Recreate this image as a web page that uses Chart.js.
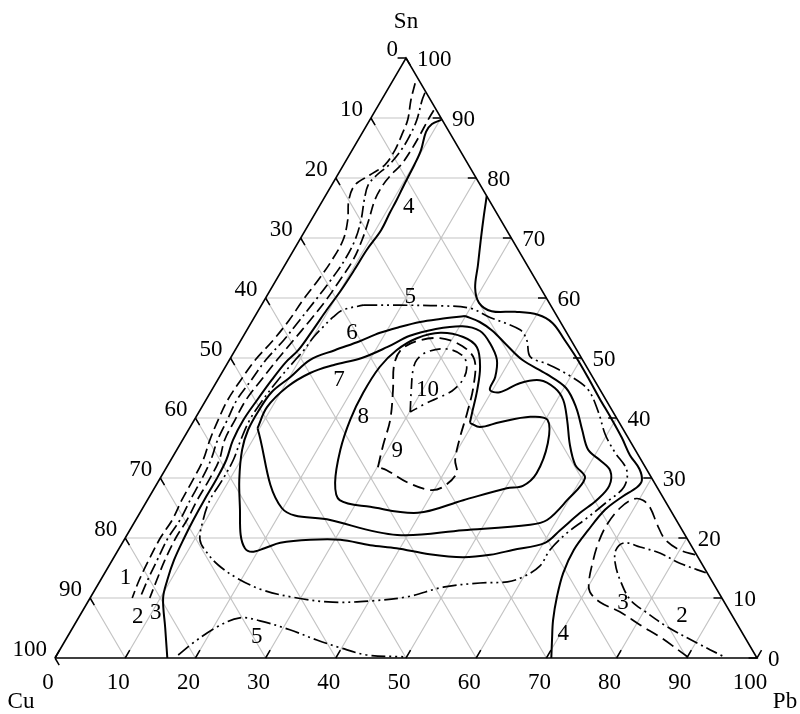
<!DOCTYPE html>
<html>
<head>
<meta charset="utf-8">
<title>Cu-Pb-Sn</title>
<script src="https://cdn.jsdelivr.net/npm/chart.js@4.4.1/dist/chart.umd.min.js"></script>
<style>
  html, body { margin: 0; padding: 0; background: #fff; }
  canvas { display: block; }
</style>
</head>
<body>
<canvas id="ternary" width="800" height="714"></canvas>
<script>
// every point is [Pb %, Sn %], Cu is whatever is left up to 100
var axisTicks = [0, 10, 20, 30, 40, 50, 60, 70, 80, 90, 100];
var gridSteps = [10, 20, 30, 40, 50, 60, 70, 80, 90];

var curve1 = [[3.4,95.8],[4.2,93],[5.4,89.7],[5.8,87.2],[6.1,84.7],[5.9,82.2],[4.6,80.5],[3.3,78.8],[3.7,76.3],[5.2,73],[6.2,69.7],[6.3,66.3],[6,63],[5.5,59.7],[5.2,56.3],[4.6,53],[3.7,49.7],[3.3,46.3],[3.1,43],[3.4,39.7],[3.9,36.3],[4.6,33],[4.8,29.7],[4.9,26.3],[5.2,23],[5,20],[5.2,16.3],[5.5,13],[6,10]];

var curve2 = [[5.6,94.2],[5.8,93],[6.7,89.7],[7,87.2],[7,84.7],[6.5,82.2],[5.6,80.5],[5.2,78.8],[5.9,76.3],[7.1,73],[7.9,69.7],[8.1,66.3],[7.8,63],[7.3,59.7],[6.7,56.3],[6.1,53],[5.2,49.7],[4.8,46.3],[4.4,43],[4.7,39.7],[5,36.3],[5.7,33],[6,29.7],[6.1,26.3],[6.3,23],[6.1,20],[6.4,16.3],[6.7,13],[7.1,10]];
var curve2Pb = [[85.6,14.2],[81.1,15.8],[77.4,17.5],[74.1,18.5],[71.5,19.2],[70.9,18],[71.9,15.8],[74,13],[77.1,9.7],[80.6,7.5],[84.6,5.2],[90.2,2.5],[95,0.3]];

var curve3 = [[8.3,91.3],[8.3,89.7],[8.4,87.2],[8.4,84.7],[8.2,82.2],[7.6,80.5],[7.3,78.8],[7.4,76.3],[8.2,73],[8.9,69.7],[9.3,66.3],[9.1,63],[8.8,59.7],[8.2,56.3],[7.5,53],[6.8,49.7],[6.2,46.3],[5.7,43],[5.8,39.7],[6,36.3],[6.9,33],[7.1,29.7],[7.1,26.3],[7.3,23],[7.2,20],[7.5,16.3],[8,13],[8.5,10]];
var curve3Pb = [[82.6,17.2],[80,18],[77.1,19.7],[74.7,22.2],[72.3,25],[70.6,26.3],[69.2,26.5],[68,25],[67.5,22.2],[67.8,19.2],[68.6,16],[69.7,12.7],[70.7,11],[73,9.3],[76.6,7.7],[80.6,5.5],[84.8,3.3],[90,0.2]];

var curve4 = [[10.2,89.7],[9.2,89],[9,87.7],[9.8,84.7],[10.1,82.2],[10.2,80.5],[10.3,78.8],[10.5,76.3],[10.6,74.2],[10.8,71.3],[10.4,68],[10.3,64.7],[10.1,61.3],[9.7,58],[9.4,54.7],[9,51.3],[8.2,49.2],[7.7,46.3],[7.3,43],[7,39.7],[7.2,36.3],[7.9,33],[8.1,29.7],[8.1,26.3],[8.2,23],[8.4,20],[8.8,16.3],[9.5,13],[10.4,10],[13.2,5],[16,0]];
var curve4Pb = [[23,77],[24.2,73.8],[25.8,69.7],[27.5,65.5],[29,61.7],[30.8,59.2],[33.3,57.8],[36.7,57.7],[40.2,57.2],[43,55.8],[46.1,53],[49.3,50],[52.6,46.7],[55.9,43.3],[59.2,40],[62.4,36.7],[65,33.8],[67.5,31.5],[68.8,29.6],[68.7,28.5],[67.3,26.8],[66,24.7],[65.3,21.3],[64.9,18],[65.3,14.2],[66.4,10.2],[67.8,6.3],[69.3,3],[70.7,0]];

var curve5 = [[14.5,58.8],[19.7,58.8],[25.5,58.7],[30,58.3],[33.5,56.8],[38.9,54.7],[40.7,53],[42.6,50.2],[45.6,49],[49.9,47],[53.6,44.7],[56.9,41],[59.8,37.2],[62.6,34.3],[65.8,31.3],[66.8,28.5],[65.6,26],[64.1,23.3],[62.5,20.8],[61.5,18],[61.4,15.3],[59.9,13.5],[58.1,12.7],[54.3,12.5],[49.4,11.8],[45.1,10.2],[40.1,9.5],[34.9,9.3],[29.5,10],[24,11.3],[19.3,13.3],[15.5,15.5],[12.7,17.7],[10.8,19.7],[9.6,23],[8.9,26.3],[9,29.7],[8.9,33],[8.3,36.3],[7.9,39.7],[8.1,43],[8.6,46.3],[9.4,49.7],[9.8,51.3],[10.1,53.5],[10.6,55.2],[11.2,56.8],[12,58],[14.5,58.8]];
var curve5Base = [[17.3,0.5],[18.4,2.5],[20.5,5.2],[23,6.7],[26.1,6.2],[31.1,4.7],[35.8,3],[39.8,1.7],[44.2,0.5],[49.5,0.2]];

var curve6 = [[29.9,57],[26.6,56.5],[24,56],[21.6,55.2],[19.2,54.2],[17,52.8],[14.2,51.3],[11.5,49.7],[10.1,46.8],[8.7,44.3],[8.4,41.3],[8.5,38],[9.3,34.7],[11.4,29.7],[14,24.7],[16.2,20.5],[17.9,18.3],[19.2,17.7],[20.7,18.3],[22.5,19.2],[26.5,19.7],[30.8,19.7],[35.5,18.8],[39.5,18.3],[44.7,17.3],[49.7,16.8],[53.4,17.2],[56.2,18],[60.2,19.2],[61.3,21.3],[62.7,24.2],[64,26.3],[64.6,28.7],[63.5,31.2],[61.1,33],[58.6,34.7],[56.1,38],[53.4,41.7],[50.3,45],[46.4,47.3],[41.7,49.7],[38.2,52.2],[35.1,54.5],[32.5,56],[29.9,57]];

var curve7 = [[9.7,38.3],[9.3,41.8],[10.5,45.2],[12.6,47.5],[15.2,48.8],[18.7,50],[21.4,51.8],[23.7,53.7],[26.7,54.8],[30.4,55.3],[33.3,54.5],[35.7,52.5],[38.1,49.7],[39.3,46.8],[39.6,44.7],[41.2,44.3],[43.3,45.8],[45.9,46.3],[48.7,45],[50.9,43],[53.1,39.7],[55.6,35.5],[58,32.2],[60.5,30],[59.8,26.3],[58.6,23],[56.6,22.2],[47.5,21.3],[38.5,20.5],[27.7,23],[19.8,25],[9.7,38.3]];

var curve8 = [[39.5,39.2],[39,40.8],[37.8,44.7],[36.3,48.5],[34.2,51.8],[31.4,53.5],[27.8,54.2],[24.9,53.3],[23,51.3],[22,48.5],[21.8,44.2],[22.2,39.7],[23.3,34.7],[25.3,29.2],[27.4,26.3],[32.3,25.2],[39.6,24.2],[45,26.3],[50.2,28.3],[52.3,28.7],[53.2,30.8],[52.3,35.8],[50.3,39.7],[47.6,40.2],[43.7,39.3],[41.3,38.5],[39.5,39.2]];

var curve9 = [[30.1,31.8],[29,35.5],[27.9,39.7],[25.8,44.7],[23.9,48.8],[23.6,51.3],[25.1,52.8],[28.2,53.3],[32,52],[34.9,49.7],[37,45.2],[38.3,40.8],[39.3,36.8],[40.5,33],[41.8,30.8],[41,28.5],[39.4,28],[35.5,29.3],[31.6,31.3],[30.1,31.8]];

var curve10 = [[30.1,41],[28.4,44.7],[27,48],[26.7,49.7],[27.5,51],[30.1,51.5],[33,50.3],[34.5,48.3],[34.9,46.2],[34.3,44.5],[33.1,43.5],[31.7,42.5],[30.1,41]];

// numbers written next to the curves
var curveLabels = [
    { text: '1', at: [3.4, 13.3] },
    { text: '2', at: [8.4, 6.8] },
    { text: '3', at: [10.6, 7.5] },
    { text: '4', at: [12.8, 75.2] },
    { text: '5', at: [20.5, 60.2] },
    { text: '6', at: [15.2, 54.2] },
    { text: '7', at: [17.3, 46.3] },
    { text: '8', at: [23.8, 40.2] },
    { text: '9', at: [31.5, 34.5] },
    { text: '10', at: [30.7, 44.7] },
    { text: '5', at: [27, 3.5] },
    { text: '4', at: [70.4, 4] },
    { text: '3', at: [76.3, 9.2] },
    { text: '2', at: [85.8, 7] }
];

var FONT = "23px 'Liberation Serif', 'Times New Roman', serif";
var DASH = [11, 5];
var DASH_DOT = [12, 4, 2, 4];
var DASH_DOT_DOT = [14, 4, 2, 4, 2, 4];

// Pb/Sn composition -> position on the flat x/y scales
function toXY(p) {
    return { x: p[0] + p[1] / 2, y: p[1] };
}

function pathData(points) {
    return points.map(toXY);
}

// several separate segments in one dataset, split with null points
function segmentData(segs) {
    var out = [];
    for (var i = 0; i < segs.length; i++) {
        if (i > 0) out.push({ x: null, y: null });
        out.push(toXY(segs[i][0]), toXY(segs[i][1]));
    }
    return out;
}

var gridSegs = [];
gridSteps.forEach(function(k) {
    gridSegs.push([[0, k], [100 - k, k]]);       // constant Sn
    gridSegs.push([[k, 0], [k, 100 - k]]);       // constant Pb
    gridSegs.push([[100 - k, 0], [0, 100 - k]]); // constant Cu
});

var tickSegs = [];
axisTicks.forEach(function(v) {
    tickSegs.push([[100 - v, v], [100 - v - 1.2, v]]);   // Sn side
    tickSegs.push([[v, 0], [v, 1.3]]);                   // Pb side
    tickSegs.push([[0, 100 - v], [1.2, 100 - v - 1.2]]); // Cu side
});

function lineSet(points, dash, width) {
    return {
        data: pathData(points),
        showLine: true,
        borderColor: '#000',
        borderWidth: width || 1.7,
        borderDash: dash || [],
        pointRadius: 0,
        tension: 0.35,
        fill: false,
        clip: false,
        order: 1
    };
}

var datasets = [
    lineSet(curve1, DASH),
    lineSet(curve2, DASH_DOT),
    lineSet(curve2Pb, DASH_DOT),
    lineSet(curve3, DASH),
    lineSet(curve3Pb, [13, 6]),
    lineSet(curve4, null, 2),
    lineSet(curve4Pb, null, 2),
    lineSet(curve5, DASH_DOT_DOT),
    lineSet(curve5Base, DASH_DOT_DOT),
    lineSet(curve6, null, 2),
    lineSet(curve7, null, 2),
    lineSet(curve8, null, 2),
    lineSet(curve9, [12, 6], 1.8),
    lineSet(curve10, [11, 5, 2, 5]),
    {
        data: pathData([[0, 0], [100, 0], [0, 100], [0, 0]]),
        showLine: true, borderColor: '#000', borderWidth: 1.6,
        pointRadius: 0, tension: 0, clip: false, order: 2
    },
    {
        data: segmentData(tickSegs),
        showLine: true, spanGaps: false, borderColor: '#000', borderWidth: 1.5,
        pointRadius: 0, tension: 0, clip: false, order: 2
    },
    {
        data: segmentData(gridSegs),
        showLine: true, spanGaps: false, borderColor: '#c4c4c4', borderWidth: 1.2,
        pointRadius: 0, tension: 0, clip: false, order: 3
    }
];

var textPlugin = {
    id: 'ternaryText',
    afterDatasetsDraw: function(chart) {
        var ctx = chart.ctx;
        var sx = chart.scales.x, sy = chart.scales.y;
        function px(p) {
            var q = toXY(p);
            return { x: sx.getPixelForValue(q.x), y: sy.getPixelForValue(q.y) };
        }
        ctx.save();
        ctx.fillStyle = '#000';
        ctx.font = FONT;
        ctx.textBaseline = 'middle';

        axisTicks.forEach(function(v) {
            // Pb along the base
            var b = px([v, 0]);
            ctx.textAlign = 'center';
            ctx.fillText(String(v), b.x - 7, b.y + 25);
            // Sn on the right side
            var r = px([100 - v, v]);
            ctx.textAlign = 'left';
            ctx.fillText(String(v), r.x + 11, r.y + 2);
            // Cu on the left side
            var l = px([0, 100 - v]);
            ctx.textAlign = 'right';
            ctx.fillText(String(v), l.x - 8, l.y - 8);
        });

        var top = px([0, 100]), cu = px([0, 0]), pb = px([100, 0]);
        ctx.textAlign = 'center';
        ctx.fillText('Sn', top.x, top.y - 36);
        ctx.fillText('Cu', cu.x - 34, cu.y + 44);
        ctx.fillText('Pb', pb.x + 28, pb.y + 44);

        curveLabels.forEach(function(c) {
            var p = px(c.at);
            ctx.fillText(c.text, p.x, p.y);
        });
        ctx.restore();
    }
};

new Chart(document.getElementById('ternary'), {
    type: 'scatter',
    data: { datasets: datasets },
    options: {
        responsive: false,
        animation: false,
        devicePixelRatio: 1,
        events: [],
        layout: { padding: { left: 55, right: 43, top: 58, bottom: 56 } },
        scales: {
            x: { type: 'linear', min: 0, max: 100, display: false },
            y: { type: 'linear', min: 0, max: 100, display: false }
        },
        plugins: {
            legend: { display: false },
            tooltip: { enabled: false }
        }
    },
    plugins: [textPlugin]
});
</script>
</body>
</html>
